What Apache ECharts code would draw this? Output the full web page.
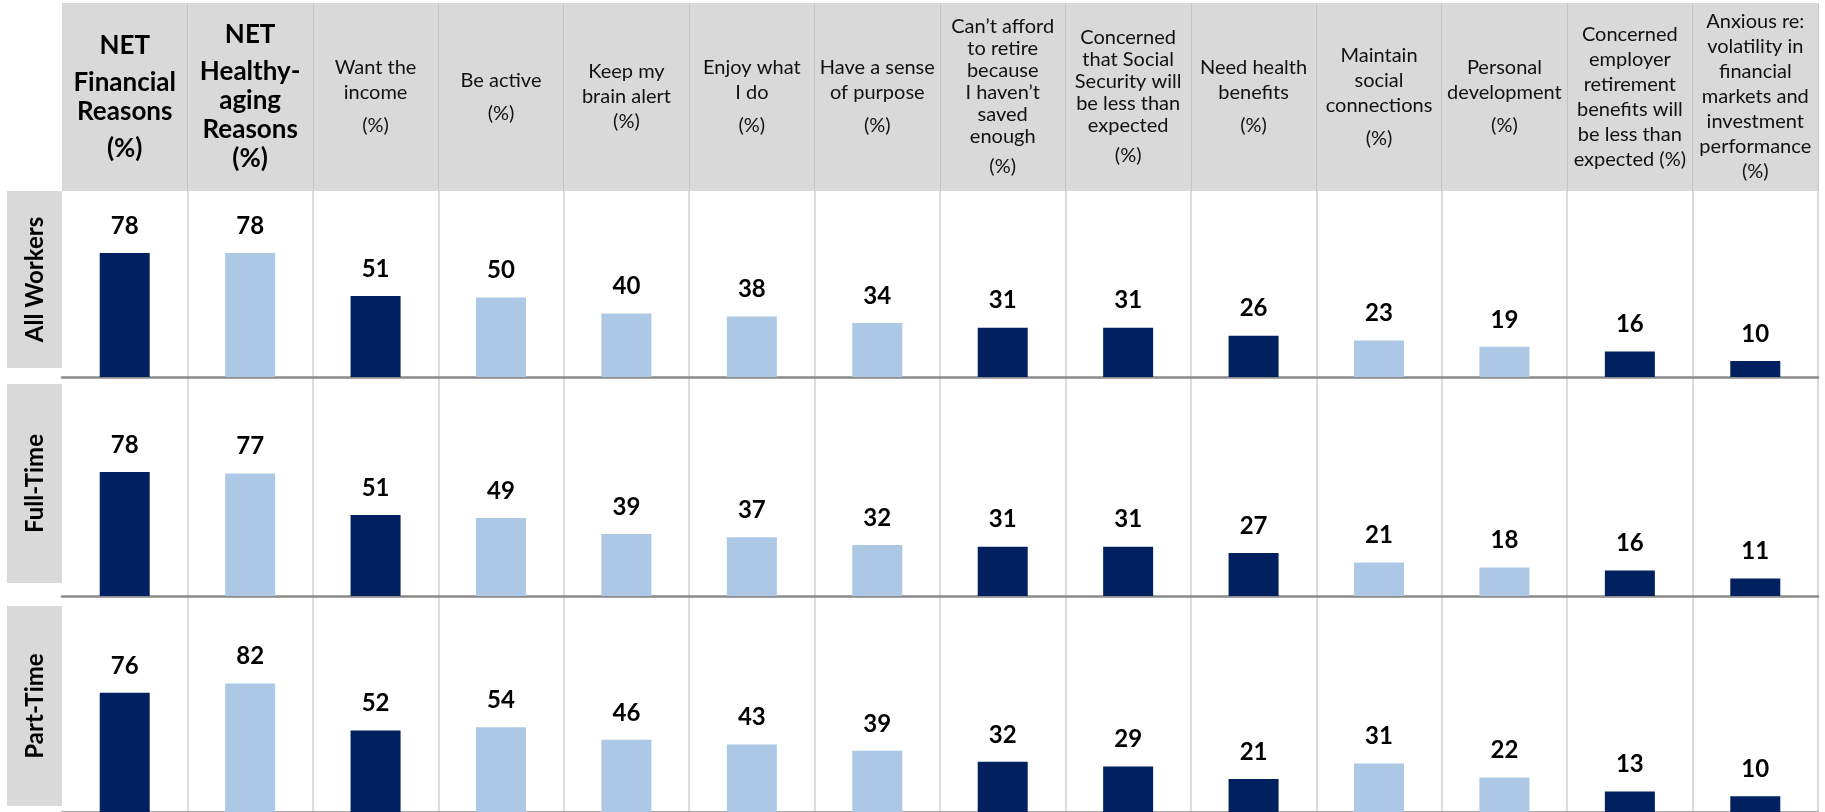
<!DOCTYPE html>
<html>
<head>
<meta charset="utf-8">
<script src="https://cdn.jsdelivr.net/npm/echarts@6/dist/echarts.min.js"></script>
<style>
html,body{margin:0;padding:0;background:#fff;}
#chart{width:1825px;height:812px;}
</style>
</head>
<body>
<div id="chart"></div>
<script>
// ---- Data ----
// Header labels ("\n\n" marks a small paragraph gap)
const categories = [
  'NET\n\nFinancial\nReasons\n\n(%)',
  'NET\n\nHealthy-\naging\nReasons\n(%)',
  'Want the\nincome\n\n(%)',
  'Be active\n\n(%)',
  'Keep my\nbrain alert\n(%)',
  'Enjoy what\nI do\n\n(%)',
  'Have a sense\nof purpose\n\n(%)',
  'Can’t afford\nto retire\nbecause\nI haven’t\nsaved\nenough\n\n(%)',
  'Concerned\nthat Social\nSecurity will\nbe less than\nexpected\n\n(%)',
  'Need health\nbenefits\n\n(%)',
  'Maintain\nsocial\nconnections\n\n(%)',
  'Personal\ndevelopment\n\n(%)',
  'Concerned\nemployer\nretirement\nbenefits will\nbe less than\nexpected (%)',
  'Anxious re:\nvolatility in\nfinancial\nmarkets and\ninvestment\nperformance\n(%)'
];
const reasonType = ['financial','health','financial','health','health','health','health',
  'financial','financial','financial','health','health','financial','financial'];
const rowLabels = ['All Workers', 'Full-Time', 'Part-Time'];
const allWorkers = [78, 78, 51, 50, 40, 38, 34, 31, 31, 26, 23, 19, 16, 10];
const fullTime   = [78, 77, 51, 49, 39, 37, 32, 31, 31, 27, 21, 18, 16, 11];
const partTime   = [76, 82, 52, 54, 46, 43, 39, 32, 29, 21, 31, 22, 13, 10];
const rows = [allWorkers, fullTime, partTime];

// ---- Styling / layout ----
const DARK = '#002060', LIGHT = '#adc8e4';
const FONT = 'Lato, "Open Sans", sans-serif';
const LEFT = 62, WIDTH = 1756;
const rowTops = [191, 377, 596];
const rowHeights = [186, 219, 219];
const PX_PER_UNIT = 1.59;
const compressed = [7, 8]; // header cells with tighter line spacing

const chart = echarts.init(document.getElementById('chart'), null, {renderer: 'canvas'});

function headerFormatter(value, idx) {
  const bold = idx < 2;
  const tight = compressed.indexOf(idx) >= 0;
  const st = bold ? 'b' : (tight ? 't' : 'r');
  return value.split('\n').map(l => l === '' ? '{g| }' : '{' + st + '|' + l + '}').join('\n');
}

const grids = [{left: LEFT, top: 3, width: WIDTH, height: 188, show: true,
  backgroundColor: '#d9d9d9', borderWidth: 0}];
const xAxes = [{
  type: 'category', gridIndex: 0, data: categories, position: 'bottom',
  axisLine: {show: false}, axisTick: {show: false},
  splitLine: {show: true, showMinLine: false, lineStyle: {color: '#c4c4c4', width: 1}},
  axisLabel: {
    inside: true, interval: 0, margin: 94, verticalAlign: 'middle', align: 'center',
    formatter: headerFormatter,
    rich: {
      b: {fontFamily: FONT, fontWeight: 'bold', fontSize: 26, lineHeight: 29, color: '#000'},
      r: {fontFamily: FONT, fontSize: 20, lineHeight: 25, color: '#111'},
      t: {fontFamily: FONT, fontSize: 20, lineHeight: 22, color: '#111'},
      g: {fontSize: 4, lineHeight: 8}
    }
  }
}];
const yAxes = [{type: 'value', gridIndex: 0, show: false, min: 0, max: 1}];
const series = [];

rows.forEach((vals, i) => {
  const gi = i + 1;
  grids.push({left: LEFT, top: rowTops[i], width: WIDTH, height: rowHeights[i]});
  xAxes.push({
    type: 'category', gridIndex: gi, data: categories,
    axisLine: {show: true, lineStyle: {color: '#8a8a8a', width: 2.5}},
    axisTick: {show: false}, axisLabel: {show: false},
    splitLine: {show: true, showMinLine: false, lineStyle: {color: '#d0d0d0', width: 1.5}}
  });
  yAxes.push({type: 'value', gridIndex: gi, show: false, min: 0,
    max: rowHeights[i] / PX_PER_UNIT, splitLine: {show: false}});
  series.push({
    type: 'bar', xAxisIndex: gi, yAxisIndex: gi, barWidth: 50,
    data: vals.map((v, k) => ({value: v,
      itemStyle: {color: reasonType[k] === 'financial' ? DARK : LIGHT}})),
    label: {show: true, position: 'top', distance: 15,
      fontFamily: FONT, fontWeight: 'bold', fontSize: 24, color: '#000'},
    animation: false
  });
});

const rowBoxes = [[191, 368], [384, 583], [606, 806]];
const graphics = [];
rowBoxes.forEach((b, i) => {
  graphics.push({type: 'rect', shape: {x: 7, y: b[0], width: 55, height: b[1] - b[0]},
    style: {fill: '#d9d9d9'}, z: 0});
  graphics.push({type: 'text', x: 35, y: (b[0] + b[1]) / 2, rotation: Math.PI / 2,
    style: {text: rowLabels[i], fill: '#000', font: 'bold 24px ' + FONT,
      align: 'center', verticalAlign: 'middle', textAlign: 'center', textVerticalAlign: 'middle'}, z: 1});
});

chart.setOption({
  animation: false,
  grid: grids, xAxis: xAxes, yAxis: yAxes, series: series,
  graphic: {elements: graphics}
});
</script>
</body>
</html>
